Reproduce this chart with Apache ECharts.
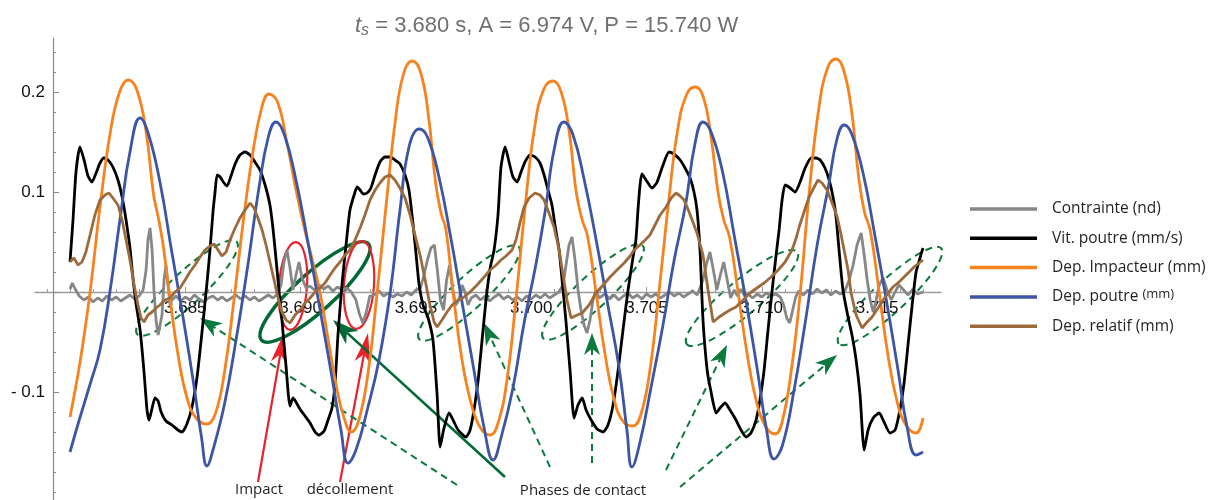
<!DOCTYPE html>
<html><head><meta charset="utf-8">
<script src="https://cdn.jsdelivr.net/npm/echarts@6/dist/echarts.min.js"></script>
<style>html,body{margin:0;padding:0;background:#fff}#c{width:1212px;height:500px}</style>
</head><body><div id="c"></div>
<script>
// Time origin t_s (s); all series times are in ms after t_s
const T0 = 3.680;
const xTicks = [5, 10, 15, 20, 25, 30, 35];
const xMinorTicks = [-1,0,1,2,3,4,6,7,8,9,11,12,13,14,16,17,18,19,21,22,23,24,26,27,28,29,31,32,33,34,36,37];
const yTickLabels = [0.2, 0.1, -0.1];
const yMajorTicks = [0.2, 0.1, 0, -0.1];
const yMinorTicks = [-0.2,-0.18,-0.16,-0.14,-0.12,-0.08,-0.06,-0.04,-0.02,0.02,0.04,0.06,0.08,0.12,0.14,0.16,0.18,0.22,0.24];
const seriesNames = ['Contrainte (nd)', 'Vit. poutre (mm/s)', 'Dep. Impacteur (mm)', 'Dep. poutre (mm)', 'Dep. relatif (mm)'];

const contrainte = [[0,0.003],[0.1,0.009],[0.2,0.004],[0.4,-0.004],[0.6,-0.008],[0.8,-0.005],[1.0,-0.010],[1.2,-0.006],[1.4,-0.009],[1.6,-0.004],[1.8,-0.008],[2.0,-0.005],[2.2,-0.009],[2.4,-0.006],[2.6,-0.003],[2.8,-0.007],[3.0,-0.004],
[3.17,0.002],[3.30,0.022],[3.38,0.052],[3.47,0.064],[3.56,0.042],[3.64,0.002],[3.73,-0.028],[3.82,-0.043],[3.90,-0.045],[3.99,-0.023],[4.08,0.012],[4.16,0.027],[4.25,0.007],[4.34,-0.013],[4.42,-0.008],
[4.6,-0.004],[4.8,-0.009],[5.0,-0.005],[5.2,-0.008],[5.4,-0.003],[5.6,-0.007],[5.8,-0.010],[6.0,-0.006],[6.2,-0.004],[6.4,-0.008],[6.6,-0.005],[6.8,-0.009],[7.0,-0.006],[7.2,-0.003],[7.4,-0.007],[7.6,-0.004],[7.8,-0.008],[8.0,-0.005],[8.2,-0.009],[8.4,-0.006],[8.6,-0.003],[8.8,-0.006],[9.0,-0.002],
[9.15,0.007],[9.28,0.030],[9.41,0.042],[9.54,0.024],[9.67,0.002],[9.80,0.017],[9.93,0.030],[10.06,0.014],[10.24,0.004],
[10.4,0.006],[10.6,0.002],[10.8,0.007],[11.0,0.003],[11.2,0.006],[11.4,0.001],[11.6,0.005],[11.8,0.002],[12.0,0.004],[12.2,0.000],
[12.4,-0.008],[12.55,-0.022],[12.7,-0.031],[12.85,-0.020],[13.0,-0.004],
[13.2,-0.003],[13.4,0.001],[13.6,-0.004],[13.8,-0.001],[14.0,-0.005],[14.2,-0.002],[14.4,-0.004],[14.6,0.000],[14.8,-0.003],[15.0,0.002],
[15.2,0.004],[15.35,0.017],[15.5,0.032],[15.65,0.044],[15.8,0.047],[15.93,0.022],[16.06,-0.008],[16.2,-0.018],[16.33,0.012],[16.46,0.027],[16.6,0.002],[16.73,-0.013],[16.86,-0.008],[17.0,0.007],[17.13,0.000],[17.26,-0.013],[17.4,-0.006],
[17.6,-0.003],[17.8,-0.008],[18.0,-0.004],[18.2,-0.009],[18.4,-0.005],[18.6,-0.002],[18.8,-0.007],[19.0,-0.004],[19.2,-0.008],[19.4,-0.005],[19.6,-0.009],[19.8,-0.004],[20.0,-0.007],[20.2,-0.003],[20.4,-0.006],[20.6,-0.002],[20.8,-0.006],[21.0,-0.003],[21.2,0.000],
[21.38,0.007],[21.51,0.027],[21.64,0.047],[21.77,0.055],[21.90,0.032],[22.03,0.002],[22.16,-0.018],[22.29,-0.033],[22.42,-0.041],[22.55,-0.028],[22.68,-0.008],[22.81,0.002],[22.94,-0.006],
[23.2,-0.002],[23.4,-0.007],[23.6,-0.003],[23.8,-0.008],[24.0,-0.004],[24.2,-0.001],[24.4,-0.006],[24.6,-0.003],[24.8,-0.007],[25.0,-0.002],[25.2,-0.005],[25.4,-0.002],[25.6,-0.006],[25.8,-0.003],[26.0,0.000],[26.2,-0.004],[26.4,-0.001],[26.6,-0.005],[26.8,-0.002],[27.0,0.001],[27.2,-0.003],
[27.45,0.012],[27.6,0.028],[27.75,0.040],[27.9,0.022],[28.05,0.002],[28.2,0.017],[28.35,0.030],[28.5,0.012],[28.65,-0.006],[28.8,0.002],[28.95,-0.004],[29.1,0.003],[29.25,-0.004],
[29.4,-0.002],[29.6,-0.006],[29.8,-0.002],[30.0,-0.005],[30.2,-0.001],[30.4,-0.004],[30.6,-0.002],[30.8,-0.005],
[30.95,-0.013],[31.08,-0.026],[31.21,-0.031],[31.34,-0.018],[31.47,-0.005],
[31.6,0.001],[31.8,-0.003],[32.0,0.002],[32.2,-0.002],[32.4,0.003],[32.6,-0.001],[32.8,0.002],[33.0,-0.003],[33.2,0.001],[33.4,-0.002],[33.6,0.001],
[33.79,0.012],[33.96,0.027],[34.13,0.047],[34.31,0.059],[34.44,0.037],[34.57,0.012],[34.7,-0.008],[34.83,-0.020],[34.96,-0.008],[35.09,0.007],[35.26,0.014],[35.43,0.002],[35.61,-0.008],[35.78,0.000],[35.95,0.007],
[36.15,0.002],[36.35,-0.003],[36.55,0.003],[36.75,-0.002],[36.99,0.000]];

const vitPoutre = [[0,0.030],[0.13,0.072],[0.26,0.120],[0.43,0.145],[0.61,0.132],[0.78,0.116],[0.95,0.110],[1.13,0.119],[1.30,0.129],[1.47,0.134],[1.65,0.132],[1.86,0.125],[2.08,0.112],[2.26,0.095],[2.43,0.072],[2.60,0.044],[2.73,0.014],[2.86,-0.011],[3.04,-0.038],[3.21,-0.080],[3.34,-0.118],[3.43,-0.128],[3.56,-0.116],[3.69,-0.106],[3.82,-0.109],[3.95,-0.120],[4.16,-0.129],[4.42,-0.133],[4.68,-0.138],[4.86,-0.140],[5.07,-0.132],[5.29,-0.115],[5.51,-0.085],[5.72,-0.041],[5.94,0.009],
[6.07,0.042],[6.20,0.080],[6.29,0.100],[6.38,0.117],[6.51,0.115],[6.68,0.109],[6.81,0.106],[6.98,0.116],[7.16,0.128],[7.37,0.137],[7.59,0.140],[7.81,0.137],[8.02,0.130],[8.24,0.122],[8.46,0.107],[8.67,0.087],[8.80,0.064],[8.93,0.034],[9.06,0.002],[9.19,-0.028],[9.37,-0.075],[9.54,-0.114],[9.67,-0.106],[9.80,-0.110],[9.97,-0.117],[10.19,-0.124],[10.41,-0.131],[10.63,-0.140],[10.80,-0.143],[11.02,-0.139],[11.19,-0.128],[11.36,-0.116],[11.49,-0.093],[11.62,-0.043],[11.80,0.009],
[11.97,0.047],[12.14,0.082],[12.32,0.097],[12.45,0.105],[12.58,0.102],[12.71,0.098],[12.88,0.099],[13.05,0.104],[13.23,0.117],[13.44,0.130],[13.66,0.135],[13.88,0.135],[14.09,0.132],[14.31,0.128],[14.53,0.117],[14.70,0.102],[14.88,0.067],[15.01,0.037],[15.14,0.007],[15.31,-0.013],[15.53,-0.026],[15.74,-0.048],[15.92,-0.103],[16.05,-0.155],[16.22,-0.136],[16.44,-0.121],[16.61,-0.128],[16.83,-0.138],[17.17,-0.145],[17.35,-0.138],[17.52,-0.118],[17.70,-0.088],[17.87,-0.048],[18.04,-0.008],[18.22,0.024],
[18.39,0.042],[18.56,0.077],[18.69,0.125],[18.87,0.145],[19.04,0.130],[19.21,0.115],[19.39,0.110],[19.56,0.120],[19.73,0.130],[19.95,0.137],[20.17,0.135],[20.38,0.129],[20.56,0.117],[20.73,0.102],[20.90,0.087],[21.03,0.067],[21.21,0.042],[21.34,0.012],[21.51,-0.030],[21.69,-0.080],[21.86,-0.126],[22.03,-0.113],[22.21,-0.106],[22.38,-0.118],[22.60,-0.128],[22.86,-0.137],[23.12,-0.140],[23.33,-0.133],[23.55,-0.113],[23.77,-0.078],[23.98,-0.038],[24.20,0.002],[24.41,0.034],
[24.54,0.052],[24.63,0.082],[24.72,0.107],[24.80,0.118],[24.98,0.112],[25.24,0.104],[25.46,0.110],[25.67,0.124],[25.98,0.140],[26.24,0.137],[26.46,0.132],[26.67,0.124],[26.89,0.114],[27.06,0.100],[27.19,0.082],[27.32,0.042],[27.45,-0.028],[27.63,-0.078],[27.80,-0.100],[28.02,-0.121],[28.19,-0.116],[28.41,-0.111],[28.62,-0.118],[28.88,-0.128],[29.10,-0.138],[29.32,-0.145],[29.53,-0.141],[29.75,-0.128],[29.92,-0.108],[30.10,-0.078],[30.27,-0.038],[30.45,0.002],[30.62,0.037],
[30.75,0.062],[30.88,0.092],[31.01,0.107],[31.23,0.104],[31.44,0.100],[31.66,0.110],[31.88,0.124],[32.14,0.134],[32.35,0.134],[32.53,0.132],[32.74,0.124],[32.92,0.112],[33.09,0.095],[33.22,0.075],[33.35,0.042],[33.52,0.002],[33.74,-0.025],[33.91,-0.043],[34.09,-0.068],[34.26,-0.103],[34.44,-0.158],[34.61,-0.138],[34.83,-0.126],[35.09,-0.121],[35.30,-0.130],[35.56,-0.141],[35.78,-0.138],[35.99,-0.118],[36.17,-0.091],[36.34,-0.053],[36.52,-0.013],[36.69,0.020],[36.86,0.034],[36.99,0.044]];

const depImpacteur = [[0,-0.125],[0.45,-0.068],[0.87,0.0],[1.30,0.085],[1.75,0.160],[2.15,0.200],[2.52,0.212],
[2.9,0.202],[3.3,0.160],[3.62,0.098],[3.85,0.072],[4.05,0.045],[4.3,0.0],[4.7,-0.065],[5.1,-0.108],[5.5,-0.127],[5.94,-0.132],
[6.30,-0.122],[6.7,-0.080],[7.1,-0.010],[7.5,0.068],[7.9,0.135],[8.3,0.183],[8.63,0.198],
[9.0,0.190],[9.4,0.150],[9.8,0.102],[10.2,0.060],[10.5,0.033],[10.84,0.0],[11.2,-0.048],[11.6,-0.100],[11.9,-0.127],[12.19,-0.140],
[12.5,-0.130],[12.9,-0.085],[13.3,-0.005],[13.7,0.085],[14.1,0.170],[14.45,0.217],[14.83,0.231],
[15.2,0.220],[15.55,0.175],[15.85,0.110],[16.1,0.078],[16.3,0.063],[16.61,0.0],[17.0,-0.068],[17.4,-0.112],[17.8,-0.136],[18.22,-0.143],
[18.55,-0.132],[18.95,-0.088],[19.35,-0.005],[19.75,0.088],[20.15,0.165],[20.55,0.203],[20.95,0.211],
[21.3,0.200],[21.65,0.160],[21.95,0.100],[22.2,0.073],[22.45,0.055],[22.81,0.0],[23.2,-0.062],[23.6,-0.108],[24.0,-0.130],[24.41,-0.134],
[24.75,-0.123],[25.15,-0.078],[25.55,0.002],[25.95,0.088],[26.35,0.162],[26.75,0.198],[27.11,0.205],
[27.45,0.196],[27.8,0.155],[28.1,0.100],[28.35,0.072],[28.6,0.055],[28.97,0.0],[29.35,-0.060],[29.75,-0.108],[30.15,-0.134],[30.58,-0.142],
[30.9,-0.128],[31.3,-0.075],[31.67,0.0],[32.05,0.098],[32.45,0.180],[32.85,0.224],[33.22,0.233],
[33.55,0.222],[33.9,0.180],[34.2,0.115],[34.45,0.080],[34.7,0.062],[35.09,0.0],[35.45,-0.060],[35.85,-0.108],[36.25,-0.133],[36.69,-0.141],[36.99,-0.126]];

const depPoutre = [[0,-0.160],[0.4,-0.128],[0.9,-0.090],[1.3,-0.058],[1.73,0.0],[2.2,0.078],[2.6,0.140],[3.04,0.174],
[3.4,0.158],[3.9,0.110],[4.4,0.042],[4.9,-0.025],[5.35,-0.090],[5.7,-0.145],[5.94,-0.174],
[6.2,-0.158],[6.7,-0.112],[7.2,-0.048],[7.7,0.025],[8.2,0.105],[8.6,0.155],[8.93,0.170],
[9.3,0.157],[9.8,0.112],[10.3,0.052],[10.8,-0.012],[11.3,-0.077],[11.75,-0.138],[12.06,-0.171],
[12.4,-0.158],[12.9,-0.117],[13.4,-0.068],[13.9,0.002],[14.3,0.080],[14.7,0.145],[15.14,0.163],
[15.5,0.155],[16.0,0.115],[16.5,0.056],[17.0,-0.010],[17.5,-0.076],[17.95,-0.135],[18.35,-0.168],
[18.7,-0.145],[19.2,-0.097],[19.7,-0.030],[20.2,0.027],[20.6,0.080],[21.0,0.143],[21.42,0.170],
[21.8,0.158],[22.3,0.112],[22.8,0.054],[23.3,-0.010],[23.8,-0.074],[24.15,-0.138],[24.37,-0.175],
[24.7,-0.152],[25.2,-0.095],[25.7,-0.035],[26.2,0.032],[26.7,0.088],[27.1,0.148],[27.45,0.170],
[27.8,0.160],[28.3,0.120],[28.8,0.057],[29.3,-0.007],[29.8,-0.077],[30.2,-0.137],[30.53,-0.167],
[30.9,-0.153],[31.4,-0.098],[31.9,-0.028],[32.4,0.047],[32.9,0.107],[33.25,0.152],[33.57,0.167],
[33.9,0.158],[34.4,0.118],[34.9,0.057],[35.4,-0.008],[35.9,-0.077],[36.3,-0.135],[36.69,-0.163],[36.99,-0.160]];

const depRelatif = [[0,0.030],[0.17,0.034],[0.35,0.027],[0.52,0.030],[0.69,0.040],[0.87,0.057],[1.08,0.077],[1.30,0.092],[1.52,0.097],[1.69,0.099],[1.86,0.094],[2.08,0.087],[2.26,0.072],[2.43,0.052],[2.60,0.032],[2.78,0.007],[2.95,-0.013],[3.08,-0.026],[3.21,-0.030],[3.38,-0.023],[3.56,-0.020],[3.73,-0.016],[3.90,-0.013],[4.12,-0.008],[4.34,-0.006],[4.55,0.000],[4.77,0.004],[4.99,0.012],[5.20,0.020],[5.42,0.027],[5.64,0.035],[5.85,0.042],[6.07,0.046],[6.25,0.048],[6.42,0.042],[6.59,0.036],[6.77,0.040],[6.94,0.052],[7.16,0.064],[7.37,0.074],[7.59,0.082],[7.81,0.089],[7.98,0.084],[8.15,0.074],[8.33,0.062],[8.50,0.047],[8.67,0.030],[8.85,0.012],[9.02,-0.006],[9.19,-0.020],[9.37,-0.028],[9.54,-0.031],[9.76,-0.023],[9.97,-0.018],[10.19,-0.011],[10.41,-0.006],[10.63,0.000],[10.84,0.004],[11.06,0.009],[11.28,0.017],[11.49,0.024],[11.71,0.030],[11.93,0.037],[12.14,0.042],[12.36,0.052],[12.58,0.064],[12.79,0.077],[13.01,0.092],[13.23,0.102],[13.44,0.109],[13.66,0.115],[13.88,0.117],[14.09,0.112],[14.31,0.104],[14.53,0.094],[14.75,0.077],[14.96,0.057],[15.18,0.037],[15.40,0.012],[15.61,-0.013],[15.79,-0.030],[15.92,-0.035],[16.13,-0.028],[16.35,-0.020],[16.57,-0.013],[16.83,-0.008],[17.04,-0.006],[17.35,0.000],[17.65,0.007],[17.96,0.015],[18.22,0.022],[18.48,0.027],[18.69,0.032],[18.91,0.036],[19.17,0.042],[19.34,0.052],[19.52,0.070],[19.69,0.085],[19.91,0.094],[20.17,0.099],[20.38,0.097],[20.56,0.092],[20.77,0.079],[20.99,0.065],[21.21,0.042],[21.38,0.017],[21.55,-0.008],[21.73,-0.026],[21.90,-0.024],[22.21,-0.021],[22.51,-0.013],[22.81,-0.001],[23.12,0.007],[23.42,0.015],[23.72,0.022],[24.03,0.029],[24.29,0.036],[24.46,0.042],[24.72,0.047],[24.94,0.052],[25.15,0.057],[25.37,0.067],[25.59,0.077],[25.85,0.085],[26.07,0.094],[26.28,0.099],[26.46,0.096],[26.63,0.092],[26.76,0.085],[26.98,0.072],[27.19,0.059],[27.45,0.037],[27.67,0.002],[27.89,-0.030],[28.15,-0.025],[28.41,-0.021],[28.62,-0.018],[28.88,-0.015],[29.19,-0.008],[29.49,-0.001],[29.79,0.004],[30.10,0.009],[30.40,0.015],[30.71,0.022],[31.01,0.030],[31.31,0.042],[31.49,0.054],[31.62,0.065],[31.83,0.080],[32.05,0.095],[32.27,0.105],[32.44,0.112],[32.61,0.109],[32.83,0.102],[33.05,0.089],[33.27,0.075],[33.44,0.057],[33.57,0.042],[33.74,0.022],[33.87,-0.001],[34.09,-0.023],[34.35,-0.036],[34.57,-0.030],[34.78,-0.025],[35.04,-0.016],[35.26,-0.008],[35.48,-0.001],[35.69,0.005],[35.95,0.010],[36.17,0.015],[36.39,0.020],[36.60,0.025],[36.82,0.029],[36.99,0.032]];

const colors = ['#878787', '#000000', '#f7831f', '#3c55a5', '#9c6a3b'];
const seriesData = [contrainte, vitPoutre, depImpacteur, depPoutre, depRelatif];
const smoothing = [false, 0.2, 0.45, 0.45, false];

const chart = echarts.init(document.getElementById('c'), null, {renderer: 'canvas'});

const GREEN = '#0b7a3c', DGREEN = '#006a34', RED = '#e8212b';
function arrow(x1, y1, x2, y2, color, lw, dashed, len, hw) {
  const a = Math.atan2(y2 - y1, x2 - x1);
  const c = Math.cos(a), s = Math.sin(a);
  const bx = x2 - len * c, by = y2 - len * s;
  const nx = x2 - len * 0.72 * c, ny = y2 - len * 0.72 * s;
  const px = -s * hw, py = c * hw;
  return [
    {type: 'line', shape: {x1: x1, y1: y1, x2: nx, y2: ny}, style: {stroke: color, lineWidth: lw, lineDash: dashed ? [7, 5] : null}},
    {type: 'polygon', shape: {points: [[x2, y2], [bx + px, by + py], [nx, ny], [bx - px, by - py]]}, style: {fill: color}}
  ];
}
function ell(cx, cy, rx, ry, deg, color, lw, dashed) {
  return {type: 'ellipse', x: cx, y: cy, rotation: deg * Math.PI / 180, shape: {cx: 0, cy: 0, rx: rx, ry: ry},
    style: {fill: 'none', stroke: color, lineWidth: lw, lineDash: dashed ? [7, 5] : null}};
}
const txt = (x, y, t) => ({type: 'text', x: x, y: y, style: {text: t, fill: '#231f20', font: '15px "Open Sans"', align: 'center', verticalAlign: 'middle'}});

const elements = [
  ell(187, 288, 68, 16, 43, GREEN, 2, true),
  ell(469, 293, 68, 16, 43, GREEN, 2, true),
  ell(593, 292, 68, 16, 43, GREEN, 2, true),
  ell(742, 298, 72, 17, 40, GREEN, 2, true),
  ell(890, 296, 70, 16, 43, GREEN, 2, true),
  ell(315, 292, 72, 19, 42, DGREEN, 3.5, false),
  ell(293, 286, 14, 44, -4, RED, 2.2, false),
  ell(359, 285, 15, 44, -4, RED, 2.2, false),
  ...arrow(258, 482, 284, 333, RED, 2.2, false, 30, 8),
  ...arrow(340, 482, 368, 333, RED, 2.2, false, 30, 8),
  ...arrow(505, 477, 333, 320, DGREEN, 2.6, false, 26, 9),
  ...arrow(457, 485, 200, 318, GREEN, 2, true, 22, 8),
  ...arrow(550, 467, 484, 323, GREEN, 2, true, 22, 8),
  ...arrow(592, 463, 592, 333, GREEN, 2, true, 22, 8),
  ...arrow(666, 470, 727, 345, GREEN, 2, true, 22, 8),
  ...arrow(680, 487, 837, 355, GREEN, 2, true, 22, 8),
  txt(259, 490, 'Impact'),
  txt(350, 490, 'décollement'),
  txt(583, 491, 'Phases de contact')
];

const axisFont = {fontFamily: 'Liberation Sans, Arial', fontSize: 17, color: '#111'};
// x axis sits on y = 0 : grid bottom (500) minus 208 px
const xCommon = {type: 'value', min: -1.518, max: 37.771, position: 'bottom', offset: -208, splitLine: {show: false}};
const yCommon = {type: 'value', min: -0.208, max: 0.254, position: 'left', offset: -18, splitLine: {show: false}};
const titleStyle = {fontFamily: 'Liberation Sans', fontSize: 22, fontWeight: 'normal', color: '#707070'};

chart.setOption({
  animation: false,
  backgroundColor: '#fff',
  title: {
    text: '{t|t}{s|s}{r| = 3.680 s, A = 6.974 V, P = 15.740 W}',
    left: 355, top: 13, padding: 0,
    textStyle: Object.assign({}, titleStyle, {rich: {
      t: Object.assign({}, titleStyle, {fontStyle: 'italic'}),
      s: Object.assign({}, titleStyle, {fontStyle: 'italic', fontSize: 16, padding: [10, 0, 0, 0]}),
      r: Object.assign({}, titleStyle)
    }})
  },
  grid: {left: 35, right: 271, top: 38, bottom: 0, containLabel: false, outerBoundsMode: 'none'},
  xAxis: [
    Object.assign({}, xCommon, {
      axisLine: {onZero: false, lineStyle: {color: '#9a9a9a', width: 1.4}},
      axisTick: {customValues: xTicks, inside: true, length: 5, lineStyle: {color: '#9a9a9a'}},
      axisLabel: Object.assign({customValues: xTicks, margin: 8, formatter: v => (T0 + v / 1000).toFixed(3)}, axisFont)
    }),
    Object.assign({}, xCommon, {
      axisLine: {show: false, onZero: false},
      axisTick: {customValues: xMinorTicks, inside: true, length: 3, lineStyle: {color: '#9a9a9a'}},
      axisLabel: {show: false}
    })
  ],
  yAxis: [
    Object.assign({}, yCommon, {
      axisLine: {show: true, onZero: false, lineStyle: {color: '#8a8a8a', width: 1.2}},
      axisTick: {customValues: yMajorTicks, inside: true, length: 6, lineStyle: {color: '#8a8a8a'}},
      axisLabel: Object.assign({customValues: yTickLabels, margin: 8, formatter: v => v < 0 ? '- ' + Math.abs(v).toFixed(1) : v.toFixed(1)}, axisFont)
    }),
    Object.assign({}, yCommon, {
      axisLine: {show: false, onZero: false},
      axisTick: {customValues: yMinorTicks, inside: true, length: 3, lineStyle: {color: '#8a8a8a'}},
      axisLabel: {show: false}
    })
  ],
  legend: {
    data: seriesNames, orient: 'vertical', left: 965, top: 195,
    itemWidth: 67, itemHeight: 3.5, itemGap: 11.3, icon: 'rect',
    selectedMode: false,
    formatter: n => n === 'Dep. poutre (mm)' ? 'Dep. poutre {s|(mm)}' : n,
    textStyle: {fontFamily: 'Open Sans', fontSize: 15.5, color: '#231f20', lineHeight: 18, padding: [0, 0, 0, 10],
      rich: {s: {fontFamily: 'Open Sans', fontSize: 13, color: '#231f20', padding: [0, 0, 5, 0]}}}
  },
  series: seriesNames.map((n, i) => ({
    name: n, type: 'line', data: seriesData[i], showSymbol: false, symbol: 'none',
    smooth: smoothing[i],
    lineStyle: {color: colors[i], width: 2.8}, itemStyle: {color: colors[i]},
    xAxisIndex: 0, yAxisIndex: 0
  })),
  graphic: {elements: elements}
});
</script></body></html>
